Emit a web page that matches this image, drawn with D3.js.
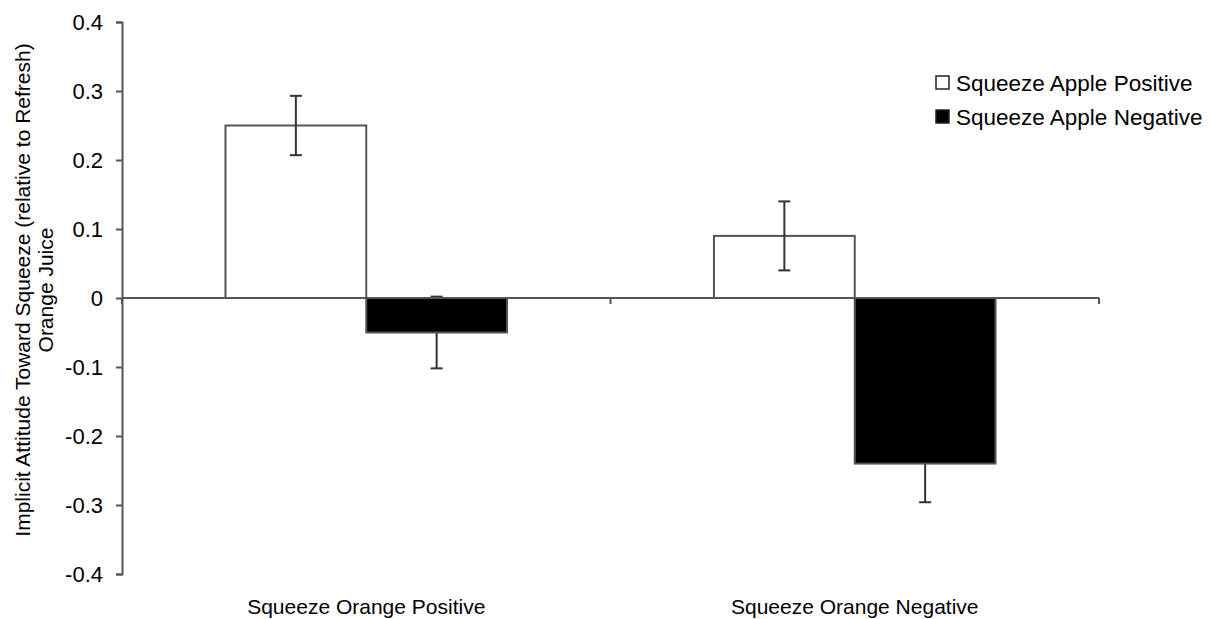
<!DOCTYPE html>
<html><head><meta charset="utf-8">
<script src="https://cdn.jsdelivr.net/npm/d3@7"></script>
<style>body{margin:0;background:#fff;} text{font-family:"Liberation Sans",Arial,sans-serif;fill:#000;}</style>
</head><body>
<svg id="chart" width="1212" height="619"></svg>
<script>
const categories = ["Squeeze Orange Positive", "Squeeze Orange Negative"];
const seriesNames = ["Squeeze Apple Positive", "Squeeze Apple Negative"];
const applePositive = [0.25, 0.09];
const appleNegative = [-0.05, -0.24];
const applePositiveErr = [0.043, 0.05];
const appleNegativeErr = [0.052, 0.056];
const yTicks = [0.4, 0.3, 0.2, 0.1, 0, -0.1, -0.2, -0.3, -0.4];
const yTickLabels = ["0.4", "0.3", "0.2", "0.1", "0", "-0.1", "-0.2", "-0.3", "-0.4"];
const yTitleLines = ["Implicit Attitude Toward Squeeze (relative to Refresh)", "Orange Juice"];
const seriesFill = ["#ffffff", "#000000"];

const svg = d3.select("#chart");
const axisColor = "#555";
const errColor = "#333";
const mLeft = 122, mRight = 1099, mTop = 22, mBottom = 574;

const y = d3.scaleLinear().domain([-0.4, 0.4]).range([mBottom, mTop]);
const x0 = d3.scaleBand().domain(categories).range([mLeft, mRight]).paddingInner(0).paddingOuter(0);
const x1 = d3.scaleBand().domain(seriesNames).range([0, x0.bandwidth()]).paddingInner(0).paddingOuter(0.735);

const flat = [];
categories.forEach((c, i) => {
  flat.push({cat: c, s: seriesNames[0], v: applePositive[i], e: applePositiveErr[i], fill: seriesFill[0], above: true});
  flat.push({cat: c, s: seriesNames[1], v: appleNegative[i], e: appleNegativeErr[i], fill: seriesFill[1], above: false});
});
const cx = d => x0(d.cat) + x1(d.s) + x1.bandwidth() / 2;

function drawErr(layer, items) {
  const eg = layer.selectAll("g.err").data(items).enter().append("g").attr("class", "err");
  eg.append("line")
    .attr("x1", cx).attr("x2", cx)
    .attr("y1", d => y(d.v + d.e)).attr("y2", d => y(d.v - d.e))
    .attr("stroke", errColor).attr("stroke-width", 2);
  eg.selectAll("line.cap").data(d => [{d, v: d.v + d.e}, {d, v: d.v - d.e}]).enter().append("line")
    .attr("class", "cap")
    .attr("x1", c => cx(c.d) - 6).attr("x2", c => cx(c.d) + 6)
    .attr("y1", c => y(c.v)).attr("y2", c => y(c.v))
    .attr("stroke", errColor).attr("stroke-width", 2);
}

// error bars hidden behind dark bars
drawErr(svg.append("g"), flat.filter(d => !d.above));

// bars
svg.append("g").selectAll("rect").data(flat).enter().append("rect")
  .attr("x", d => x0(d.cat) + x1(d.s))
  .attr("width", x1.bandwidth())
  .attr("y", d => y(Math.max(0, d.v)))
  .attr("height", d => Math.abs(y(d.v) - y(0)))
  .attr("fill", d => d.fill)
  .attr("stroke", axisColor)
  .attr("stroke-width", 2);

// y axis
const yAxis = d3.axisLeft(y).tickValues(yTicks).tickSize(6).tickPadding(13)
  .tickFormat((d, i) => yTickLabels[i]);
const ya = svg.append("g").attr("transform", `translate(${mLeft},0)`).call(yAxis);
ya.select(".domain").attr("stroke", axisColor).attr("stroke-width", 2);
ya.selectAll(".tick line").attr("stroke", axisColor).attr("stroke-width", 2);
ya.selectAll(".tick text").style("font-size", "22px").attr("fill", "#000");

// x axis at zero
const xAxisG = svg.append("g").attr("transform", `translate(0,${y(0)})`);
xAxisG.append("line").attr("x1", mLeft).attr("x2", mRight).attr("y1", 0).attr("y2", 0)
  .attr("stroke", axisColor).attr("stroke-width", 2);
const xTickPos = [mLeft].concat(categories.map(c => x0(c) + x0.bandwidth()));
xAxisG.selectAll("line.xt").data(xTickPos).enter().append("line")
  .attr("class", "xt")
  .attr("x1", d => d).attr("x2", d => d).attr("y1", 0).attr("y2", 6)
  .attr("stroke", axisColor).attr("stroke-width", 2);

// error bars over light bars
drawErr(svg.append("g"), flat.filter(d => d.above));

// category labels
svg.selectAll("text.cat").data(categories).enter().append("text")
  .attr("class", "cat")
  .attr("x", d => x0(d) + x0.bandwidth() / 2)
  .attr("y", 614)
  .attr("text-anchor", "middle")
  .style("font-size", "21px")
  .text(d => d);

// y title
const yt = svg.append("text").attr("transform", "translate(0,290) rotate(-90)").attr("text-anchor", "middle")
  .style("font-size", "21px");
yt.selectAll("tspan").data(yTitleLines).enter().append("tspan")
  .attr("x", 0).attr("y", (d, i) => 30 + i * 23).text(d => d);

// legend
const leg = svg.append("g").attr("transform", "translate(936,0)");
const legRows = leg.selectAll("g").data(seriesNames).enter().append("g")
  .attr("transform", (d, i) => `translate(0,${83 + i * 34})`);
legRows.append("rect").attr("x", 0).attr("y", -7).attr("width", 13).attr("height", 13)
  .attr("fill", (d, i) => seriesFill[i]).attr("stroke", "#222").attr("stroke-width", 1.5);
legRows.append("text").attr("x", 20).attr("y", 8).style("font-size", "22.5px").text(d => d);
</script>
</body></html>
